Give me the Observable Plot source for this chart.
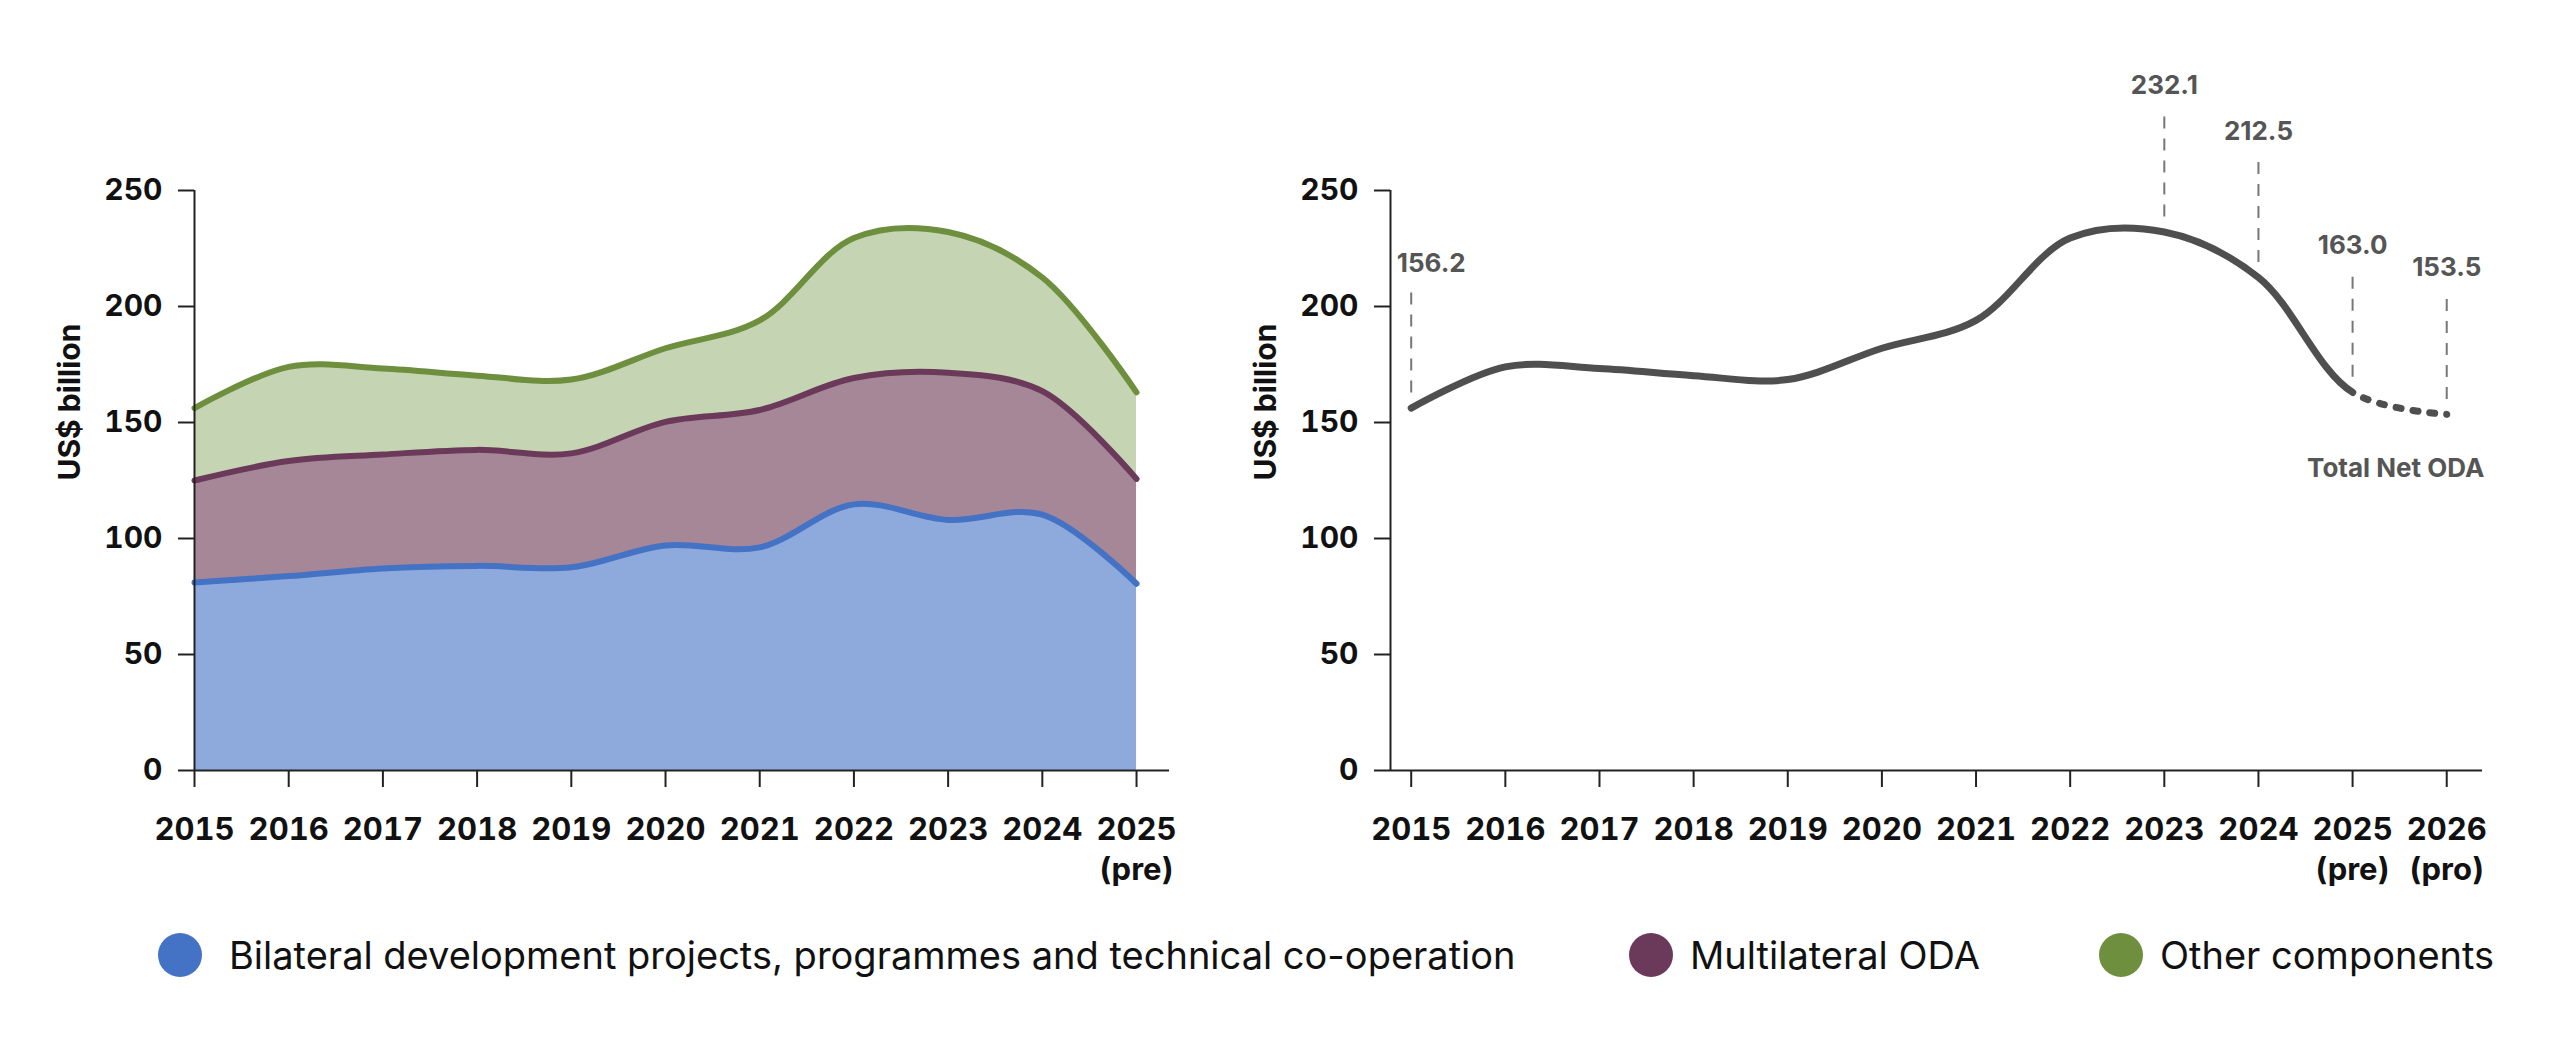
<!DOCTYPE html>
<html>
<head>
<meta charset="utf-8">
<script src="https://cdn.jsdelivr.net/npm/d3@7"></script>
<script src="https://cdn.jsdelivr.net/npm/@observablehq/plot@0.6"></script>
<style>
  html, body { margin: 0; padding: 0; background: #ffffff; }
  body { width: 2560px; height: 1050px; overflow: hidden; font-family: Inter, "Noto Sans", sans-serif; }
  #charts { display: flex; align-items: flex-start; }
  #charts svg { overflow: visible; }
  #legend { position: relative; height: 160px; font-family: Inter, sans-serif; font-size: 38px; color: #111; }
  .item { position: absolute; top: 0; height: 130px; display: flex; align-items: center; white-space: nowrap; }
  .dot { width: 44px; height: 44px; border-radius: 50%; flex: none; }
</style>
</head>
<body>
<div id="charts"></div>
<div id="legend"></div>
<script>
// ---------- data ----------
const years = [2015, 2016, 2017, 2018, 2019, 2020, 2021, 2022, 2023, 2024, 2025];
const yearLabels = ["2015", "2016", "2017", "2018", "2019", "2020", "2021", "2022", "2023", "2024", "2025\n(pre)"];

const seriesNames = [
  "Bilateral development projects, programmes and technical co-operation",
  "Multilateral ODA",
  "Other components"
];
const seriesStroke = ["#4472c4", "#6b3a5a", "#6e8f3d"];
const seriesFill = ["#8eaadc", "#a68797", "#c5d4b2"];

const bilateral    = [81.0, 83.8, 87.1, 88.2, 87.6, 97.0, 96.2, 114.7, 108.0, 110.3, 80.5];
const multilateral = [44.0, 49.6, 49.1, 50.0, 49.1, 53.3, 59.2, 54.5, 63.4, 53.2, 45.2];
const otherComp    = [31.2, 40.6, 37.1, 32.0, 31.8, 31.7, 38.6, 60.3, 60.7, 49.0, 37.3];

const totalYears = [2015, 2016, 2017, 2018, 2019, 2020, 2021, 2022, 2023, 2024, 2025, 2026];
const totalLabels = ["2015", "2016", "2017", "2018", "2019", "2020", "2021", "2022", "2023", "2024", "2025\n(pre)", "2026\n(pro)"];
const totalNet = [156.2, 174.0, 173.3, 170.2, 168.5, 182.0, 194.0, 229.5, 232.1, 212.5, 163.0, 153.5];

const annoYears  = [2015, 2023, 2024, 2025, 2026];
const annoValues = [156.2, 232.1, 212.5, 163.0, 153.5];
const annoText   = ["156.2", "232.1", "212.5", "163.0", "153.5"];
const seriesLabel = "Total Net ODA";
const yTicks = [0, 50, 100, 150, 200, 250];
const yTitle = "US$ billion";

// ---------- tables ----------
const seriesValues = [bilateral, multilateral, otherComp];
const rows = [];
seriesNames.forEach((s, i) => {
  years.forEach((yr, j) => rows.push({year: yr, value: seriesValues[i][j], series: s, fill: seriesFill[i], stroke: seriesStroke[i]}));
});
const totalRows = totalYears.map((yr, i) => ({year: yr, value: totalNet[i]}));
const annoRows = annoYears.map((yr, i) => ({year: yr, value: annoValues[i], text: annoText[i]}));

// ---------- layout ----------
const H = 890, MT = 190, MB = 120;
const pxPerUnit = (H - MT - MB) / 250;
const FONT = "Inter, 'Noto Sans', sans-serif";
const axisColor = "#222";

function axes(xTicks, xLabels, xMin) {
  return [
    Plot.ruleY([0], {stroke: axisColor, strokeWidth: 2}),
    Plot.ruleX([xMin], {stroke: axisColor, strokeWidth: 2}),
    Plot.axisY({ticks: yTicks, tickSize: 16, tickPadding: 16, tickFormat: d => String(d),
      fontSize: 30, fontWeight: 700, fill: "#111", stroke: axisColor, strokeWidth: 2, label: null}),
    Plot.axisX({ticks: xTicks, tickSize: 17, tickPadding: 23, tickFormat: d => xLabels[xTicks.indexOf(d)],
      fontSize: 31, fontWeight: 700, fill: "#111", stroke: axisColor, strokeWidth: 2, lineHeight: 1.32, label: null}),
    Plot.text([yTitle], {frameAnchor: "left", text: d => d, rotate: -90, dx: -124,
      fontSize: 30, fontWeight: 700, fill: "#111"})
  ];
}

// ---------- left chart: stacked areas ----------
const leftDomain = [2015, 2025.35];
const left = Plot.plot({
  width: 1250, height: H,
  marginLeft: 194, marginRight: 81, marginTop: MT, marginBottom: MB,
  style: {fontFamily: FONT, background: "transparent", overflow: "visible"},
  x: {domain: leftDomain, axis: null},
  y: {domain: [0, 250], axis: null},
  color: {type: "identity"},
  marks: [
    Plot.areaY(rows, {x: "year", y: "value", z: "series", fill: "fill", curve: "catmull-rom"}),
    Plot.lineY(rows, Plot.stackY2({x: "year", y: "value", z: "series", stroke: "stroke",
      strokeWidth: 6, curve: "catmull-rom"})),
    ...axes(years, yearLabels, leftDomain[0])
  ]
});

// ---------- right chart: total line ----------
const rightDomain = [2014.78, 2026.38];
const lineColor = "#4f4f4f";
const labelColor = "#555555";
const annoFont = {fontSize: 26, fontWeight: 700, fill: labelColor, lineAnchor: "bottom"};
const right = Plot.plot({
  width: 1310, height: H,
  marginLeft: 140, marginRight: 78, marginTop: MT, marginBottom: MB,
  style: {fontFamily: FONT, background: "transparent", overflow: "visible"},
  x: {domain: rightDomain, axis: null},
  y: {domain: [0, 250], axis: null},
  marks: [
    Plot.ruleX(annoRows, {x: "year", y1: d => d.value + 15 / pxPerUnit, y2: d => d.value + 115 / pxPerUnit,
      stroke: "#777", strokeWidth: 2, strokeDasharray: "12,10"}),
    Plot.lineY(totalRows, {x: "year", y: "value", stroke: lineColor, strokeWidth: 7, curve: "catmull-rom"}),
    Plot.text(annoRows.slice(0, 1), {x: "year", y: "value", text: "text", dy: -136, dx: 20, ...annoFont}),
    Plot.text(annoRows.slice(1), {x: "year", y: "value", text: "text", dy: -138, ...annoFont}),
    Plot.text(annoRows.slice(-1), {x: "year", y: "value", text: () => seriesLabel, dx: -51, dy: 63, ...annoFont}),
    ...axes(totalYears, totalLabels, rightDomain[0])
  ]
});

document.getElementById("charts").append(left, right);

// dotted projection segment (2025 -> 2026) on the same curve
(function () {
  const path = right.querySelector('g[aria-label="line"] path');
  if (!path) return;
  const xs = right.scale("x");
  const targetX = xs.apply(2025);
  const L = path.getTotalLength();
  let lo = 0, hi = L;
  for (let i = 0; i < 40; i++) {
    const mid = (lo + hi) / 2;
    if (path.getPointAtLength(mid).x < targetX) lo = mid; else hi = mid;
  }
  const solid = lo;
  const dash = 5, gap = 12;
  const arr = [solid];
  let acc = solid;
  while (acc < L) { arr.push(gap, dash); acc += gap + dash; }
  arr.push(L + 1000, 0);
  path.setAttribute("stroke-dasharray", arr.join(" "));
})();

// ---------- legend ----------
const legendLefts = [158, 1629, 2099];
const legendGaps = [27, 17, 17];
const legend = document.getElementById("legend");
seriesNames.forEach((s, i) => {
  const item = document.createElement("div");
  item.className = "item";
  item.style.left = legendLefts[i] + "px";
  const dot = document.createElement("span");
  dot.className = "dot";
  dot.style.background = seriesStroke[i];
  dot.style.marginRight = legendGaps[i] + "px";
  const label = document.createElement("span");
  label.textContent = s;
  item.append(dot, label);
  legend.append(item);
});
</script>
</body>
</html>
